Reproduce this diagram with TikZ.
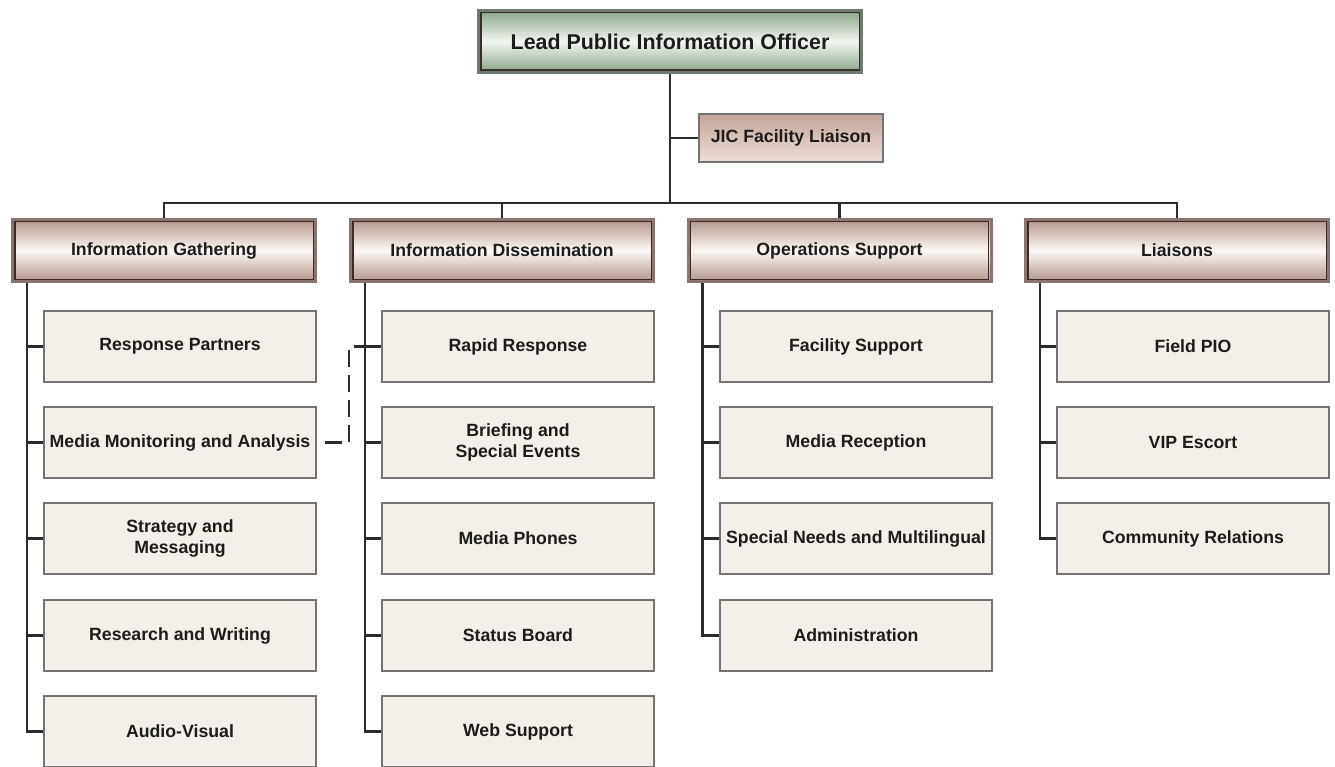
\documentclass[tikz,border=0pt]{standalone}
\usepackage{fontspec}
\setmainfont{Liberation Sans}
\usetikzlibrary{calc}

\definecolor{txtdark}{HTML}{1C1C1C}
\definecolor{linkdark}{HTML}{2B2B2B}
\definecolor{leaffill}{HTML}{F4EFE9}
\definecolor{leafrim}{HTML}{737373}
\definecolor{headbrown}{HTML}{B39489}
\definecolor{headlight}{HTML}{FCF9F7}
\definecolor{headrim}{HTML}{8A766F}
\definecolor{headline}{HTML}{3A2C28}
\definecolor{topgreen}{HTML}{89A389}
\definecolor{toplight}{HTML}{F3F6F1}
\definecolor{toprim}{HTML}{6F7C6F}
\definecolor{jictop}{HTML}{C4A69B}
\definecolor{jicbottom}{HTML}{ECDED7}

\tikzset{
    chart/.style={font=\bfseries\fontsize{17.7}{21}\selectfont,
        text=txtdark, align=center, inner sep=0pt},
    leaf/.style={chart, draw=leafrim, line width=1.8pt, fill=leaffill,
        minimum width=272.2pt, minimum height=71.2pt},
    head/.style={chart, draw=#1rim, line width=3pt,
        path picture={\draw[headline, line width=1.2pt]
            ([shift={(2.4pt,-2.4pt)}]path picture bounding box.north west) rectangle
            ([shift={(-2.4pt,2.4pt)}]path picture bounding box.south east);}},
    group/.style={head=head, top color=headbrown, bottom color=headbrown,
        middle color=headlight, minimum width=303pt, minimum height=62pt},
    chief/.style={head=top, top color=topgreen, bottom color=topgreen,
        middle color=toplight, font=\bfseries\fontsize{21.4}{25}\selectfont,
        minimum width=383pt, minimum height=62pt},
    aide/.style={chart, draw=leafrim, line width=1.8pt, top color=jictop,
        bottom color=jicbottom, minimum width=184.2pt, minimum height=48.2pt},
    link/.style={linkdark, line width=2.1pt},
    dashlink/.style={linkdark, line width=2.1pt, dash pattern=on 17pt off 8pt}
}

\begin{document}
\begin{tikzpicture}[x=1pt, y=-1pt]
    % 画布大小与原图一致(像素即pt)
    \useasboundingbox (0,0) rectangle (1335,767);
    \clip (0,0) rectangle (1335,767);

    % 顶层
    \node[chief] (lpio) at (670, 41.5) {Lead Public Information Officer};
    \node[aide] (jic) at (791, 138) {JIC Facility Liaison};
    \coordinate (bus) at (670, 203);

    % 四个分组
    \node[group] (ig) at (164, 250.5) {Information Gathering};
    \node[group] (id) at (502, 250.5) {Information Dissemination};
    \node[group] (os) at (839.5, 250.5) {Operations Support};
    \node[group] (li) at (1177, 250.5) {Liaisons};

    % Information Gathering
    \node[leaf] (rp) at (180, 346.5) {Response Partners};
    \node[leaf] (mma) at (180, 442.5) {Media Monitoring and Analysis};
    \node[leaf] (sm) at (180, 538.5) {Strategy and\\Messaging};
    \node[leaf] (rw) at (180, 635.5) {Research and Writing};
    \node[leaf] (av) at (180, 731.5) {Audio-Visual};

    % Information Dissemination
    \node[leaf] (rr) at (518, 346.5) {Rapid Response};
    \node[leaf] (bse) at (518, 442.5) {Briefing and\\Special Events};
    \node[leaf] (mp) at (518, 538.5) {Media Phones};
    \node[leaf] (sb) at (518, 635.5) {Status Board};
    \node[leaf] (ws) at (518, 731.5) {Web Support};

    % Operations Support
    \node[leaf] (fs) at (856, 346.5) {Facility Support};
    \node[leaf] (mr) at (856, 442.5) {Media Reception};
    \node[leaf] (snm) at (856, 538.5) {Special Needs and Multilingual};
    \node[leaf] (adm) at (856, 635.5) {Administration};

    % Liaisons
    \node[leaf] (fpio) at (1193, 346.5) {Field PIO};
    \node[leaf] (vip) at (1193, 442.5) {VIP Escort};
    \node[leaf] (cr) at (1193, 538.5) {Community Relations};

    % 上层连线
    \draw[link] (lpio.south) -- (bus);
    \draw[link] (jic.west) -- (lpio.south |- jic.west);
    \draw[link] (ig.north) |- (bus) -| (li.north);
    \draw[link] (id.north) -- (id.north |- bus);
    \draw[link] (os.north) -- (os.north |- bus);

    % 虚线(Media Monitoring -> Rapid Response)
    \draw[dashlink] ([xshift=8pt]mma.east) -| ([xshift=-32pt]rr.west) -- (rr.west);

    % 每组的竖线
    \coordinate (igT) at ([xshift=16pt]ig.south west);
    \coordinate (idT) at ([xshift=16pt]id.south west);
    \coordinate (osT) at ([xshift=16pt]os.south west);
    \coordinate (liT) at ([xshift=16pt]li.south west);

    \draw[link] (igT) |- (av.west);
    \foreach \n in {rp, mma, sm, rw}
        \draw[link] (igT |- \n.west) -- (\n.west);
    \draw[link] (idT) |- (ws.west);
    \foreach \n in {rr, bse, mp, sb}
        \draw[link] (idT |- \n.west) -- (\n.west);
    \draw[link] (osT) |- (adm.west);
    \foreach \n in {fs, mr, snm}
        \draw[link] (osT |- \n.west) -- (\n.west);
    \draw[link] (liT) |- (cr.west);
    \foreach \n in {fpio, vip}
        \draw[link] (liT |- \n.west) -- (\n.west);
\end{tikzpicture}
\end{document}
